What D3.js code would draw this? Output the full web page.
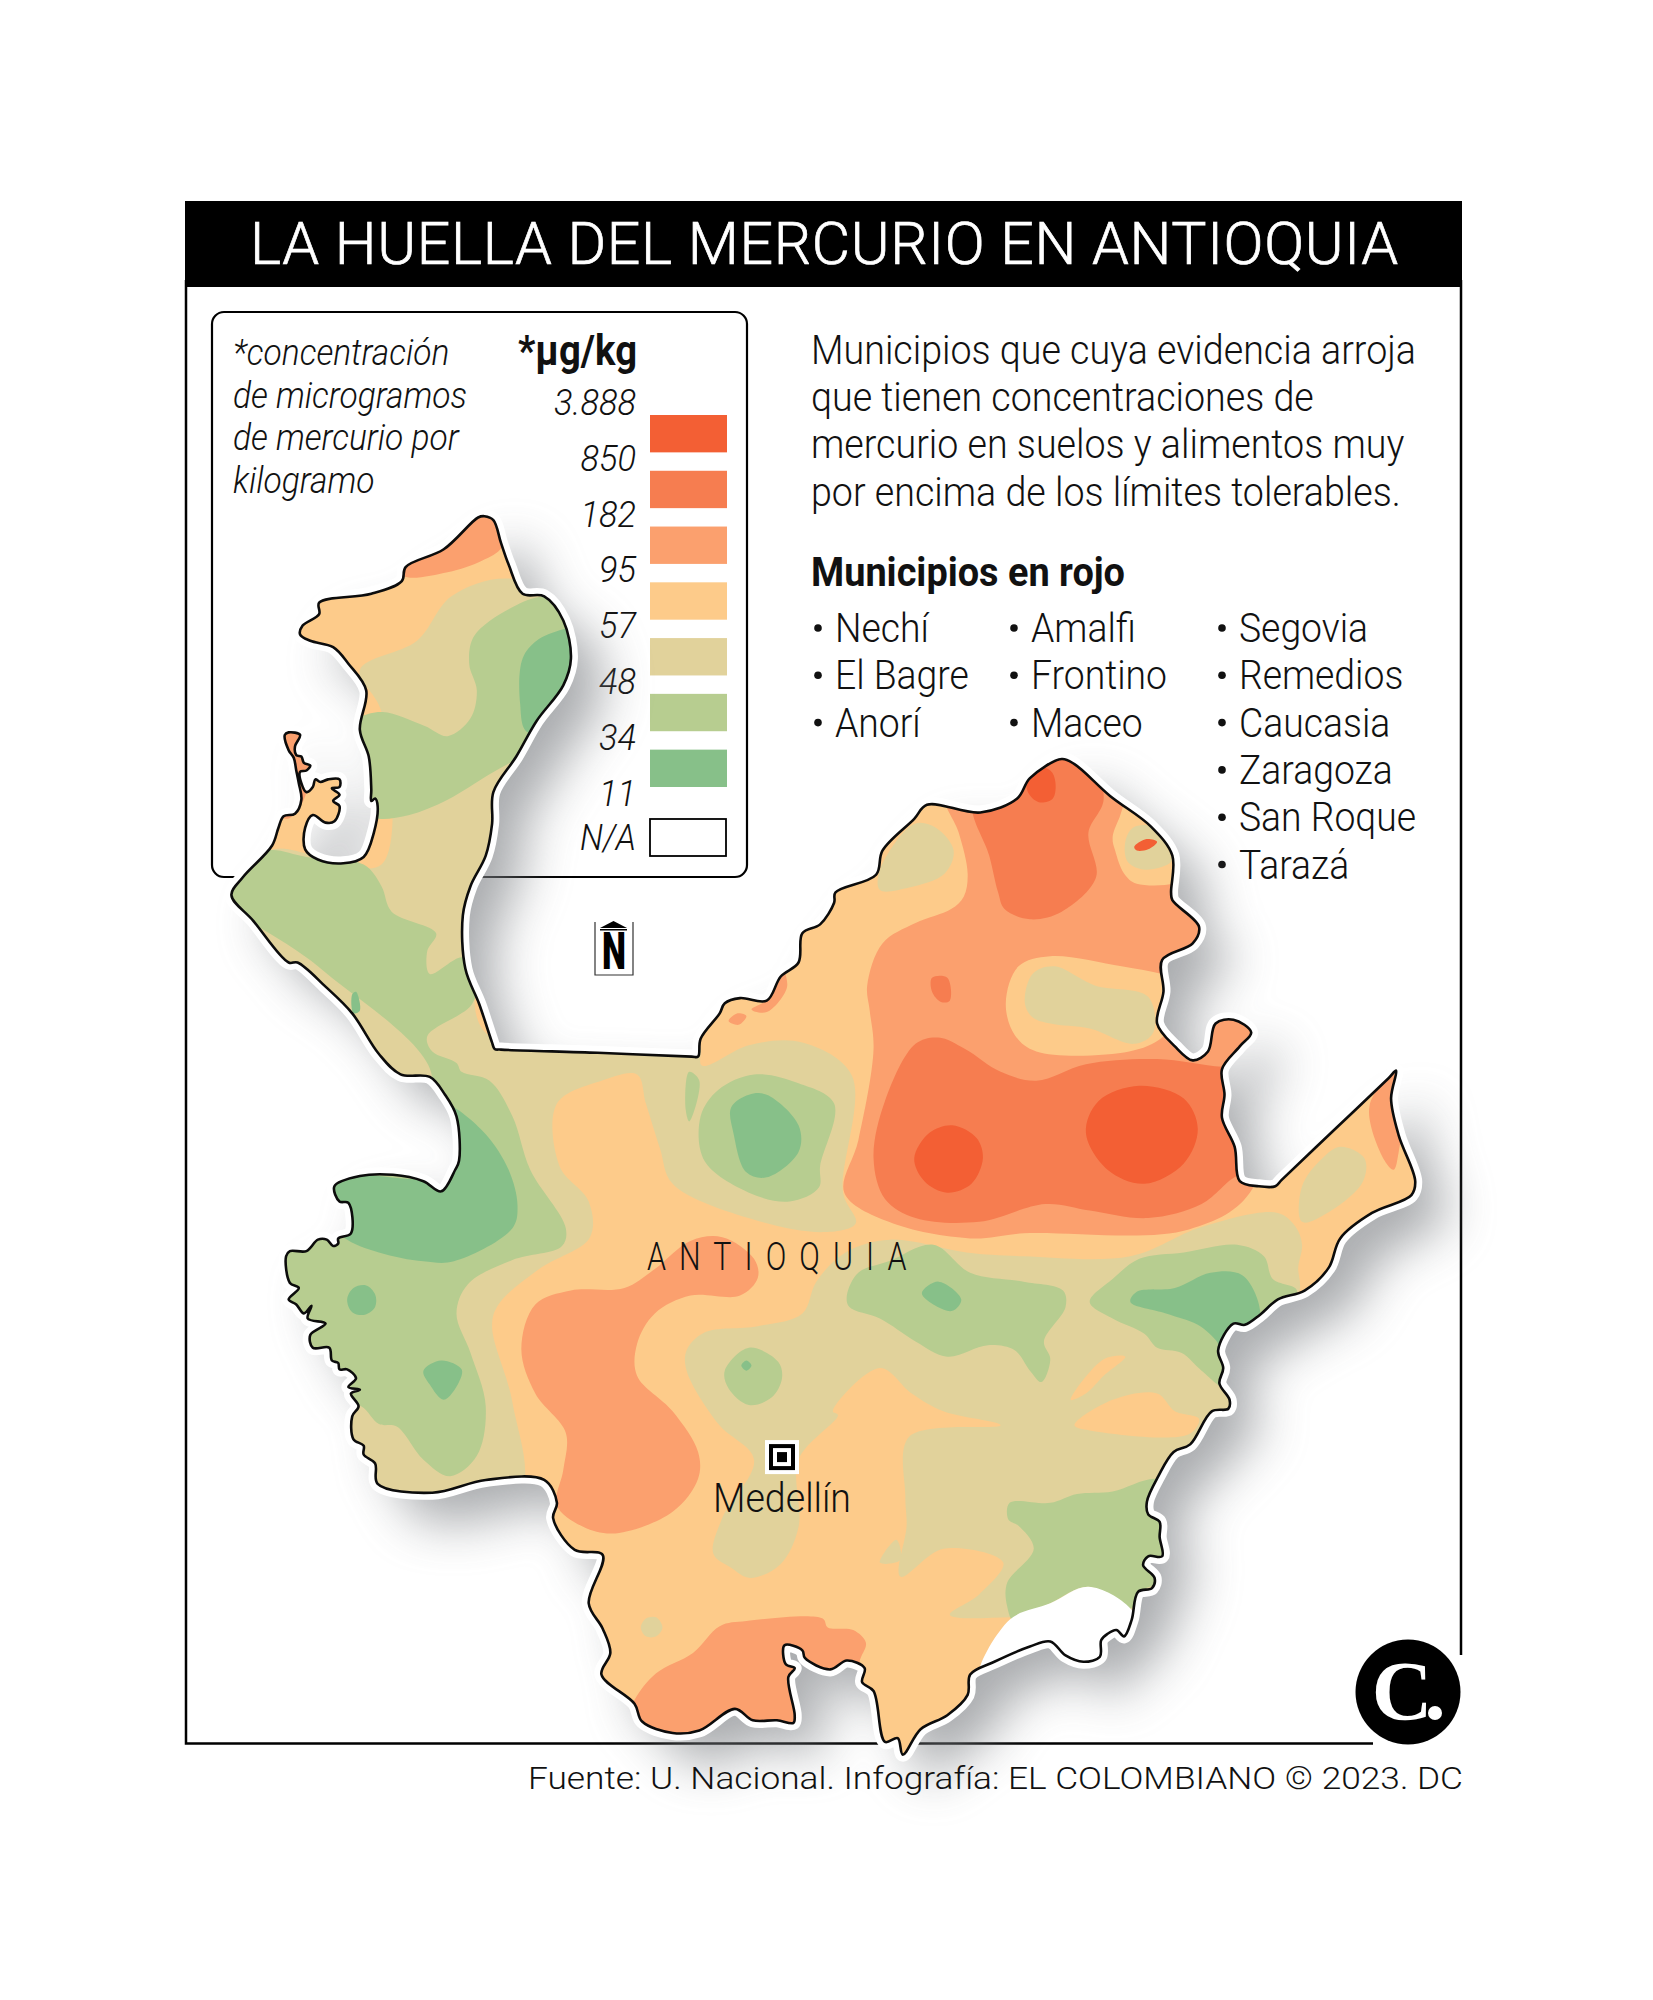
<!DOCTYPE html>
<html>
<head>
<meta charset="utf-8">
<script src="https://d3js.org/d3.v7.min.js"></script>
<style>
  html, body { margin: 0; background: #fff; }
  text { font-family: Roboto, sans-serif; fill: #111; }
</style>
</head>
<body>
<script>
// --- legend ---
const classNames = ['c1', 'c2', 'c3', 'c4', 'c5', 'c6', 'c7'];
const classColors = ['#f35f34', '#f67d50', '#fba06e', '#fdcb8a', '#e1d29b', '#b7cd90', '#87c089'];
const legendTicks = ['3.888', '850', '182', '95', '57', '48', '34', '11'];

// --- texts ---
const title = 'LA HUELLA DEL MERCURIO EN ANTIOQUIA';
const noteLines = ['*concentración', 'de microgramos', 'de mercurio por', 'kilogramo'];
const introLines = ['Municipios que cuya evidencia arroja', 'que tienen concentraciones de',
  'mercurio en suelos y alimentos muy', 'por encima de los límites tolerables.'];
const listTitle = 'Municipios en rojo';
const col1 = ['Nechí', 'El Bagre', 'Anorí'];
const col2 = ['Amalfi', 'Frontino', 'Maceo'];
const col3 = ['Segovia', 'Remedios', 'Caucasia', 'Zaragoza', 'San Roque', 'Tarazá'];
const source = 'Fuente: U. Nacional. Infografía: EL COLOMBIANO © 2023. DC';

// --- map, in map units ---
const outline = [[381,406],[388,409],[394,427],[400,444],[411,467],[428,469],[443,488],[449,518],[443,539],[422,567],[406,595],[388,623],[387,648],[382,673],[370,697],[364,720],[366,762],[377,790],[387,820],[389,825],[394,825.5],[470,828],[544,831],[549,831],[551,817],[566,797],[570,789],[582,785],[603,787],[614,768],[628,757],[631,734],[645,727],[656,710],[657,702],[689,688],[694,669],[719,644],[729,633],[771,639],[800,628],[810,612],[835,597],[845,601],[873,626],[905,650],[922,673],[921,702],[922,708],[943,729],[938,742],[914,755],[915,780],[910,805],[924,823],[938,834],[950,827],[956,805],[970,802],[984,812],[975,823],[961,841],[963,861],[961,879],[971,902],[975,929],[990,933],[1003,933],[1008,928],[1050,888],[1092,848],[1098,842],[1094,864],[1100,893],[1113,929],[1110,940],[1079,954],[1054,974],[1045,997],[1026,1015],[1005,1022],[991,1034],[979,1042],[970,1041],[958,1062],[962,1076],[959,1088],[967,1101],[966,1108],[953,1110],[936,1136],[923,1142],[911,1161],[902,1181],[903,1191],[912,1197],[912,1209],[914,1224],[903,1224],[899,1231],[908,1241],[906,1249],[895,1252],[890,1274],[884,1287],[878,1282],[871,1285],[866,1290],[865,1303],[852,1307],[838,1302],[826,1291],[810,1295],[782,1307],[763,1317],[761,1333],[745,1349],[724,1360],[710,1380],[706,1367],[696,1370],[687,1330],[678,1323],[680,1312],[666,1306],[653,1313],[633,1304],[631,1298],[617,1294],[618,1309],[625,1312],[620,1319],[625,1349],[624,1355],[611,1353],[592,1353],[578,1344],[550,1361],[529,1363],[505,1354],[499,1340],[473,1317],[480,1300],[474,1281],[463,1261],[474,1223],[452,1219],[435,1194],[438,1182],[428,1164],[382,1164],[340,1174],[297,1167],[295,1151],[286,1144],[286,1137],[278,1132],[277,1114],[282,1106],[276,1096],[283,1093],[274,1091],[280,1084],[273,1077],[267,1077],[266,1072],[261,1070],[259,1060],[246,1060],[244,1050],[256,1041],[242,1037],[245,1027],[239,1033],[233,1026],[227,1022],[235,1013],[228,1009],[225,988],[228,984],[241,984],[250,975],[257,975],[262,980],[266,978],[266,974],[276,970],[274,946],[267,945],[263,933],[283,925],[309,924],[333,929],[347,937],[358,920],[361,913],[359,878],[350,861],[338,847],[315,845],[298,829],[277,797],[256,776],[234,757],[227,757],[199,724],[182,704],[191,690],[214,665],[219,651],[223,642],[232,640],[237,629],[235,616],[233,606],[231,596],[227,590],[224,578],[227,576],[236,578],[232,587],[233,594],[237,595],[239,600],[244,602],[241,606],[236,607],[237,616],[241,623],[246,619],[248,613],[252,615],[258,613],[267,613],[267,619],[261,620],[267,625],[262,630],[267,634],[263,646],[256,647],[246,641],[240,651],[240,668],[250,676],[270,679],[286,674],[294,655],[297,634],[295,628],[292,630],[292,621],[290,595],[283,574],[288,543],[274,522],[262,509],[244,504],[236,499],[238,492],[251,483],[251,474],[292,467],[316,457],[319,446],[349,432],[376,407]];

const westTan = [[283,527],[328,504],[355,469],[400,455],[460,480],[460,560],[400,660],[375,800],[395,820],[549,820],[552,838],[589,822],[631,820],[670,846],[663,938],[673,962],[649,969],[592,959],[529,931],[519,903],[508,868],[501,845],[473,850],[438,868],[440,917],[463,945],[464,973],[424,998],[392,1026],[387,1043],[403,1103],[408,1175],[300,1185],[200,1000],[165,700],[215,668],[245,672],[300,680],[300,560]];
const eastTan = [[540,1062],[554,1048],[596,1043],[631,1033],[642,1008],[665,985],[700,975],[760,985],[805,988],[889,988],[945,965],[1005,954],[1019,965],[1024,979],[1021,997],[1022,1015],[1005,1040],[985,1100],[950,1125],[930,1150],[905,1170],[900,1262],[795,1272],[747,1270],[770,1254],[789,1229],[742,1218],[708,1240],[713,1200],[712,1177],[715,1130],[787,1121],[742,1110],[717,1096],[692,1076],[655,1110],[659,1113],[628,1148],[628,1201],[614,1230],[590,1241],[575,1233],[561,1222],[568,1194],[593,1148],[565,1120],[540,1078]];
const smallTan = [
  [[692,1229],[705,1211],[708,1227]],
  [[504,1280],[508,1273],[516,1272],[521,1280],[516,1287],[508,1287]],
  [[1024,933],[1040,911],[1054,902],[1073,911],[1072,929],[1047,952],[1024,961]],
  [[692,684],[719,648],[736,651],[750,669],[743,687],[715,698],[692,700]],
  [[885,662],[891,651],[905,650],[921,673],[921,678],[901,684],[887,678]],
  [[806,789],[812,766],[829,760],[861,775],[903,784],[907,812],[892,821],[857,809],[826,805],[812,800]]
];

const midGreens = [
  [[283,564],[301,560],[334,571],[352,579],[370,565],[375,543],[369,522],[373,500],[406,476],[431,469],[465,480],[465,540],[420,580],[408,595],[385,609],[352,629],[322,641],[298,644],[285,640],[270,600],[275,570]],
  [[195,680],[211,669],[241,674],[286,680],[300,697],[308,717],[343,734],[336,748],[338,766],[364,753],[375,770],[371,790],[336,815],[340,827],[359,836],[363,843],[385,850],[403,878],[417,920],[445,966],[442,980],[403,991],[368,1010],[359,1033],[370,1064],[382,1106],[375,1145],[354,1161],[333,1148],[312,1122],[298,1120],[284,1106],[260,1100],[200,1000],[220,930],[260,920],[340,850],[250,760],[170,700]],
  [[551,878],[565,857],[593,845],[628,852],[656,868],[645,917],[644,934],[621,945],[589,938],[554,913]],
  [[542,843],[550,850],[542,882],[539,870]],
  [[570,1078],[589,1060],[612,1071],[615,1084],[607,1099],[589,1105],[573,1092]],
  [[666,1019],[675,1001],[699,992],[734,979],[763,1001],[805,1008],[836,1015],[838,1028],[821,1055],[826,1069],[819,1087],[810,1078],[798,1062],[777,1058],[745,1067],[720,1055],[692,1037],[668,1028]],
  [[857,1024],[875,1006],[896,990],[931,985],[973,979],[994,988],[1001,1006],[1020,1015],[990,1045],[960,1052],[959,1055],[963,1091],[945,1078],[929,1064],[910,1060],[900,1049],[875,1037]],
  [[794,1182],[826,1182],[847,1175],[875,1173],[908,1163],[930,1170],[925,1240],[900,1250],[889,1265],[856,1248],[826,1261],[798,1276],[792,1263],[792,1245],[813,1218],[801,1200],[793,1195]]
];
const deepGreens = [
  [[443,495],[422,504],[411,518],[409,553],[415,576],[460,560],[470,490]],
  [[357,871],[382,892],[400,920],[407,948],[403,966],[357,992],[333,992],[298,985],[270,973],[250,950],[255,925],[340,925],[355,900],[352,870]],
  [[273,1022],[278,1013],[288,1011],[295,1018],[295,1028],[287,1034],[277,1032]],
  [[333,1078],[347,1070],[363,1077],[361,1087],[349,1101],[338,1089]],
  [[277,782],[280,780],[283,795],[278,797]],
  [[575,871],[589,861],[603,861],[628,885],[628,906],[603,926],[587,922],[577,892]],
  [[583,1074],[587,1070],[591,1074],[587,1078]],
  [[725,1017],[738,1008],[756,1022],[749,1031],[734,1026]],
  [[889,1024],[894,1016],[924,1013],[952,1001],[977,1003],[991,1031],[985,1050],[960,1060],[957,1055],[942,1042],[917,1033]]
];
const paleOranges = [
  [[875,659],[880,644],[890,625],[935,660],[935,690],[894,695],[884,687],[877,669]],
  [[791,789],[801,760],[826,752],[882,760],[914,766],[930,770],[930,795],[914,816],[888,827],[815,827],[798,814]],
  [[845,1121],[875,1101],[910,1096],[924,1110],[943,1116],[935,1128],[857,1125]],
  [[842,1101],[868,1069],[885,1067],[868,1082],[854,1096]]
];
const oranges = [
  [[317,453],[352,450],[379,441],[395,430],[400,395],[340,420],[310,440]],
  [[220,575],[238,573],[237,590],[244,600],[241,612],[241,623],[235,636],[226,644],[220,641],[234,625],[231,600]],
  [[591,794],[603,796],[619,776],[614,760],[605,785]],
  [[573,803],[580,797],[587,799],[581,806]],
  [[743,625],[754,655],[761,687],[758,705],[748,715],[720,726],[694,742],[682,775],[684,795],[687,825],[675,897],[664,938],[699,961],[763,974],[805,970],[935,967],[985,935],[1000,800],[950,640],[850,580],[780,620]],
  [[410,1061],[421,1026],[449,1015],[491,1013],[515,998],[543,976],[568,973],[593,990],[596,1005],[582,1019],[543,1019],[515,1033],[501,1057],[501,1082],[529,1110],[549,1142],[549,1163],[529,1189],[484,1206],[459,1201],[438,1184],[443,1156],[445,1127],[421,1096]],
  [[499,1337],[516,1316],[545,1300],[566,1279],[587,1275],[647,1273],[651,1280],[671,1282],[681,1292],[676,1307],[675,1335],[560,1385],[490,1360]],
  [[1077,870],[1098,842],[1105,850],[1100,906],[1096,920],[1089,913]]
];
const deepOranges = [
  [[765,630],[778,673],[785,702],[790,715],[810,723],[835,717],[862,690],[856,655],[868,628],[850,580],[800,600]],
  [[733,769],[745,769],[747,787],[740,788],[733,780]],
  [[687,911],[696,866],[720,821],[738,816],[759,825],[787,843],[815,850],[854,837],[910,833],[961,839],[985,838],[985,925],[973,925],[945,947],[903,958],[857,952],[822,947],[770,961],[720,958],[696,943]]
];
const reds = [
  [[808,622],[817,631],[828,628],[830,615],[826,606],[810,603]],
  [[892,666],[901,660],[910,662],[903,668],[894,669]],
  [[719,911],[731,891],[749,885],[768,895],[773,911],[764,931],[745,938],[727,929]],
  [[854,891],[864,866],[896,854],[931,864],[942,888],[931,915],[900,931],[871,920]]
];
const noData = [[794,1274],[826,1261],[856,1248],[889,1265],[900,1290],[860,1325],[790,1325],[770,1320]];

// paint order: each entry is [colour class, rings]
const layers = [
  ['c5', [westTan, eastTan]], ['c5', smallTan.slice(0, 3)], ['c6', midGreens], ['c7', deepGreens],
  ['c4', paleOranges.slice(2)], ['c3', oranges], ['c4', paleOranges.slice(0, 2)],
  ['c5', smallTan.slice(3)], ['c2', deepOranges], ['c1', reds]
];

const W = 1653, H = 2000;
const x = d3.scaleLinear().domain([0, 1300]).range([0, W]);
const y = d3.scaleLinear().domain([0, 1573]).range([0, H]);
const colour = d3.scaleOrdinal().domain(classNames).range(classColors);

const blob = d3.line().x(d => x(d[0])).y(d => y(d[1])).curve(d3.curveCatmullRomClosed.alpha(0.5));

const svg = d3.select('body').append('svg').attr('width', W).attr('height', H).style('display', 'block');
const defs = svg.append('defs');
defs.append('clipPath').attr('id', 'land').append('path').attr('d', blob(outline));
const f = defs.append('filter').attr('id', 'soft').attr('x', '-20%').attr('y', '-20%').attr('width', '140%').attr('height', '140%');
f.append('feGaussianBlur').attr('stdDeviation', 25);

// shrink a set of text lines to a condensed look, the reference line sets the ratio
function condense(sel, refIndex, targetWidth) {
  const k = targetWidth / sel.nodes()[refIndex].getComputedTextLength();
  sel.each(function() {
    d3.select(this).attr('textLength', this.getComputedTextLength() * k).attr('lengthAdjust', 'spacingAndGlyphs');
  });
}

// frame
svg.append('path').attr('fill', 'none').attr('stroke', '#000').attr('stroke-width', 2.5)
  .attr('d', 'M186,280V1743.5H1373M1461,280V1655');
svg.append('rect').attr('x', 185).attr('y', 201).attr('width', 1277).attr('height', 86).attr('fill', '#000');
svg.append('text').text(title).attr('x', 250).attr('y', 264).attr('font-size', 59).attr('font-weight', 300)
  .style('fill', '#fff').style('stroke', '#fff').style('stroke-width', 0.7).attr('textLength', 1148);

// legend box
svg.append('rect').attr('x', 212).attr('y', 312).attr('width', 535).attr('height', 565).attr('rx', 12)
  .attr('fill', '#fff').attr('stroke', '#000').attr('stroke-width', 2.2);

const note = svg.append('g').selectAll('text').data(noteLines).join('text')
  .text(d => d).attr('x', 233).attr('y', (d, i) => 365 + i * 42.6)
  .attr('font-size', 37).attr('font-style', 'italic').attr('font-weight', 300);
condense(note, 1, 234);

const unit = svg.append('text').text('*µg/kg').attr('x', 637).attr('y', 365).attr('text-anchor', 'end')
  .attr('font-size', 42).attr('font-weight', 700);
condense(unit, 0, 119);

const legendY = d3.scaleBand().domain(classNames).range([415, 415 + 372]).paddingInner(0.33);
svg.append('g').selectAll('rect').data(classNames).join('rect')
  .attr('x', 650).attr('y', d => legendY(d)).attr('width', 77).attr('height', legendY.bandwidth())
  .attr('fill', d => colour(d));
svg.append('rect').attr('x', 650).attr('y', 819).attr('width', 76).attr('height', 37)
  .attr('fill', '#fff').attr('stroke', '#000').attr('stroke-width', 1.8);

const tickY = d3.scalePoint().domain(legendTicks).range([415, 415 + 7 * 55.8]);
const ticks = svg.append('g').selectAll('text').data(legendTicks).join('text')
  .text(d => d).attr('x', 636).attr('y', d => tickY(d)).attr('text-anchor', 'end')
  .attr('font-size', 37).attr('font-style', 'italic').attr('font-weight', 300);
condense(ticks, 0, 82);
const na = svg.append('text').text('N/A').attr('x', 636).attr('y', 850).attr('text-anchor', 'end')
  .attr('font-size', 37).attr('font-style', 'italic').attr('font-weight', 300);
condense(na, 0, 56);

// intro and municipality lists
const intro = svg.append('g').selectAll('text').data(introLines).join('text')
  .text(d => d).attr('x', 811).attr('y', (d, i) => 364 + i * 47.2)
  .attr('font-size', 41).attr('font-weight', 300);
condense(intro, 0, 605);

const lt = svg.append('text').text(listTitle).attr('x', 811).attr('y', 586)
  .attr('font-size', 41).attr('font-weight', 700);
condense(lt, 0, 314);

[[col1, 811, 835], [col2, 1007, 1031], [col3, 1215, 1239]].forEach(([names, bx, tx]) => {
  const g = svg.append('g');
  g.selectAll('circle').data(names).join('circle')
    .attr('cx', bx + 7).attr('cy', (d, i) => 628 + i * 47.3).attr('r', 3.8).attr('fill', '#111');
  const t = g.selectAll('text').data(names).join('text')
    .text(d => d).attr('x', tx).attr('y', (d, i) => 642 + i * 47.3)
    .attr('font-size', 41).attr('font-weight', 300);
  t.each(function() {
    d3.select(this).attr('textLength', this.getComputedTextLength() * 0.91).attr('lengthAdjust', 'spacingAndGlyphs');
  });
});

// north arrow
const north = svg.append('g');
north.append('path').attr('fill', 'none').attr('stroke', '#333').attr('stroke-width', 1.2).attr('d', 'M595,922V975H633V922');
north.append('path').attr('d', 'M600,928L613.5,921L627,928Z').attr('fill', '#000');
north.append('rect').attr('x', 600).attr('y', 929).attr('width', 27).attr('height', 1.5).attr('fill', '#000');
north.append('text').text('N').attr('x', 602).attr('y', 969).attr('font-size', 52).attr('font-weight', 900)
  .style('fill', '#000').attr('textLength', 24).attr('lengthAdjust', 'spacingAndGlyphs');

// map: shadow, halo, fills, border
const map = svg.append('g');
map.append('path').attr('d', blob(outline)).attr('fill', '#7d8084').attr('opacity', 0.65)
  .attr('transform', 'translate(32,30)').attr('filter', 'url(#soft)');
map.append('path').attr('d', blob(outline)).attr('fill', '#fff').attr('stroke', '#fff')
  .attr('stroke-width', 14).attr('stroke-linejoin', 'round');

const fills = map.append('g').attr('clip-path', 'url(#land)');
fills.append('path').attr('d', blob(outline)).attr('fill', colour('c4'));
layers.forEach(([cls, rings]) => {
  fills.append('g').selectAll('path').data(rings).join('path')
    .attr('d', blob).attr('fill', colour(cls));
});
fills.append('path').attr('d', blob(noData)).attr('fill', '#fff');
map.append('path').attr('d', blob(outline)).attr('fill', 'none').attr('stroke', '#0c0c0c')
  .attr('stroke-width', 2.6).attr('stroke-linejoin', 'round');

// labels on the map
svg.append('text').text('ANTIOQUIA').attr('transform', `translate(${x(616)},${y(999)}) scale(0.8,1)`)
  .attr('text-anchor', 'middle').attr('font-size', 38).attr('font-weight', 300).attr('letter-spacing', '0.43em');

const mx = x(615), my = y(1146);
[[34, '#fff'], [26, '#000'], [18, '#fff'], [10, '#000']].forEach(([s, c]) => {
  svg.append('rect').attr('x', mx - s / 2).attr('y', my - s / 2).attr('width', s).attr('height', s).attr('fill', c);
});
const med = svg.append('text').text('Medellín').attr('x', 713).attr('y', y(1189))
  .attr('font-size', 41).attr('font-weight', 300);
condense(med, 0, 138);

// logo and source
svg.append('circle').attr('cx', 1408).attr('cy', 1692).attr('r', 52.5).attr('fill', '#000');
svg.append('text').text('C').attr('x', 1402).attr('y', 1720).attr('text-anchor', 'middle')
  .attr('font-size', 84).attr('font-weight', 700).style('font-family', '"Liberation Serif", serif').style('fill', '#fff');
svg.append('circle').attr('cx', 1435).attr('cy', 1713).attr('r', 7).attr('fill', '#fff');

svg.append('text').text(source).attr('x', 528).attr('y', 1789).attr('font-size', 31)
  .attr('textLength', 935).attr('lengthAdjust', 'spacingAndGlyphs').attr('font-weight', 300);
</script>
</body>
</html>
